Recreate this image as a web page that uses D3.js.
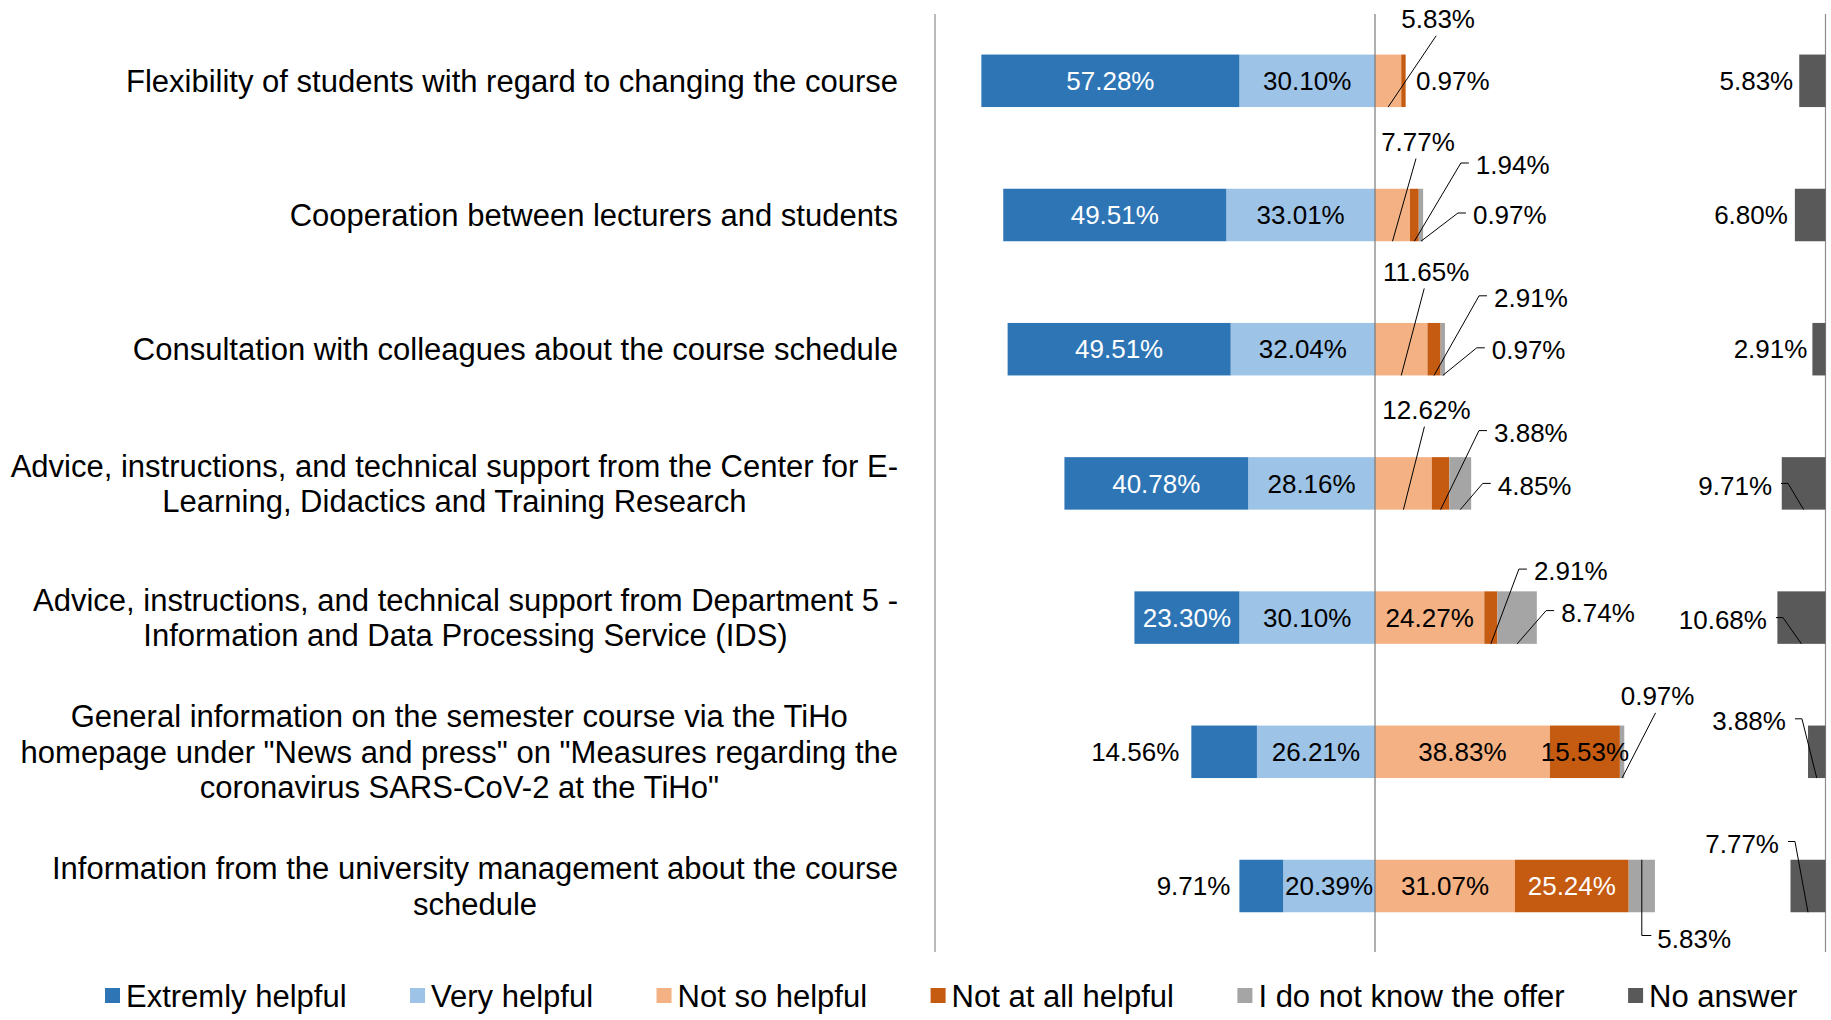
<!DOCTYPE html>
<html>
<head>
<meta charset="utf-8">
<script src="https://cdn.jsdelivr.net/npm/d3@7/dist/d3.min.js"></script>
<style>
  html, body { margin: 0; padding: 0; background: #fff; }
  svg { display: block; }
  text { font-family: "Liberation Sans", Arial, sans-serif; }
</style>
</head>
<body>
<svg id="chart" width="1831" height="1020"></svg>
<script>
// ---------------- DATA ----------------
const categories = [
  "Flexibility of students with regard to changing the course",
  "Cooperation between lecturers and students",
  "Consultation with colleagues about the course schedule",
  "Advice, instructions, and technical support from the Center for E-\nLearning, Didactics and Training Research",
  "Advice, instructions, and technical support from Department 5 -\nInformation and Data Processing Service (IDS)",
  "General information on the semester course via the TiHo\nhomepage under \"News and press\" on \"Measures regarding the\ncoronavirus SARS-CoV-2 at the TiHo\"",
  "Information from the university management about the course\nschedule"
];
const seriesNames = ["Extremly helpful", "Very helpful", "Not so helpful", "Not at all helpful", "I do not know the offer", "No answer"];
const extremelyHelpful = [57.28, 49.51, 49.51, 40.78, 23.30, 14.56, 9.71];
const veryHelpful      = [30.10, 33.01, 32.04, 28.16, 30.10, 26.21, 20.39];
const notSoHelpful     = [5.83, 7.77, 11.65, 12.62, 24.27, 38.83, 31.07];
const notAtAllHelpful  = [0.97, 1.94, 2.91, 3.88, 2.91, 15.53, 25.24];
const doNotKnow        = [0, 0.97, 0.97, 4.85, 8.74, 0.97, 5.83];
const noAnswer         = [5.83, 6.80, 2.91, 9.71, 10.68, 3.88, 7.77];

// ---------------- STYLE / LAYOUT ----------------
const colors = ["#2E75B6", "#9DC3E6", "#F4B183", "#C55A11", "#A5A5A5", "#595959"];
const insideTextColor = ["#ffffff", "#000000", "#000000", "#ffffff", "#000000", "#ffffff"];
// placement of data labels that are not centred inside their bar
// series index: 0 EH,1 VH,2 NSH,3 NAH,4 DK,5 NA ; dx from segment middle (px), dy from row centre (px)
const labelLayout = [
  {row:0, s:2, mode:"above", dx:50, dy:-62},
  {row:0, s:3, mode:"plainR", dx:12.5, dy:0},
  {row:0, s:5, mode:"leftOf", gap:6},
  {row:1, s:2, mode:"above", dx:25.5, dy:-73.5},
  {row:1, s:3, mode:"elbowR", dx:61.5, dy:-50},
  {row:1, s:4, mode:"elbowR", dx:52, dy:0},
  {row:1, s:5, mode:"leftOf", gap:7},
  {row:2, s:2, mode:"above", dx:25, dy:-77.8},
  {row:2, s:3, mode:"elbowR", dx:60, dy:-51.4},
  {row:2, s:4, mode:"elbowR", dx:49, dy:0.6},
  {row:2, s:5, mode:"leftOf", gap:5},
  {row:3, s:2, mode:"above", dx:23, dy:-73.8},
  {row:3, s:3, mode:"elbowR", dx:53.4, dy:-50.8},
  {row:3, s:4, mode:"elbowR", dx:37.5, dy:2},
  {row:3, s:5, mode:"elbowL", dx:-31.6, dy:2},
  {row:4, s:3, mode:"elbowR", dx:43, dy:-46.5},
  {row:4, s:4, mode:"elbowR", dx:44, dy:-5},
  {row:4, s:5, mode:"elbowL", dx:-34.5, dy:2},
  {row:5, s:0, mode:"leftOf", gap:12},
  {row:5, s:3, mode:"in", color:"#000000"},
  {row:5, s:4, mode:"above", dx:35.5, dy:-56},
  {row:5, s:5, mode:"elbowL", dx:-30.8, dy:-31},
  {row:6, s:0, mode:"leftOf", gap:9},
  {row:6, s:4, mode:"below", dx:15.5, dy:52.5},
  {row:6, s:5, mode:"elbowL", dx:-29, dy:-42.5}
];

const svg = d3.select("#chart");
const catFont = 31, labelFont = 26, legendFont = 31;
const barH = 52.5;
const topY = 14, bottomY = 952;
const leftAxisX = 935;
const labelRight = 898;

const x = d3.scaleLinear().domain([-100, 100]).range([924.5, 1825.5]);
const y = d3.scalePoint().domain(d3.range(categories.length)).range([80.8, 886]);

const seriesData = [extremelyHelpful, veryHelpful, notSoHelpful, notAtAllHelpful, doNotKnow, noAnswer];

// build segments
const segments = [];
categories.forEach((c, i) => {
  const vh = veryHelpful[i], eh = extremelyHelpful[i];
  segments.push({row:i, s:1, v:vh, x0:-vh, x1:0});
  segments.push({row:i, s:0, v:eh, x0:-vh-eh, x1:-vh});
  let acc = 0;
  [2,3,4].forEach(s => {
    const v = seriesData[s][i];
    segments.push({row:i, s:s, v:v, x0:acc, x1:acc+v});
    acc += v;
  });
  const na = noAnswer[i];
  segments.push({row:i, s:5, v:na, x0:100-na, x1:100});
});

// axis lines
const axisColor = "#8c8c8c";
svg.append("line").attr("x1", leftAxisX).attr("x2", leftAxisX).attr("y1", topY).attr("y2", bottomY)
  .attr("stroke", axisColor).attr("stroke-width", 1.2);
svg.append("line").attr("x1", x(100)).attr("x2", x(100)).attr("y1", topY).attr("y2", bottomY)
  .attr("stroke", axisColor).attr("stroke-width", 1.2);

// bars
svg.append("g").selectAll("rect").data(segments.filter(d => d.v > 0)).join("rect")
  .attr("x", d => x(d.x0))
  .attr("width", d => x(d.x1) - x(d.x0))
  .attr("y", d => y(d.row) - barH/2)
  .attr("height", barH)
  .attr("fill", d => colors[d.s]);

// centre axis line
svg.append("line").attr("x1", x(0)).attr("x2", x(0)).attr("y1", topY).attr("y2", bottomY)
  .attr("stroke", "#7a7a7a").attr("stroke-width", 1.2);

// category labels
const catG = svg.append("g");
categories.forEach((c, i) => {
  const lines = c.split("\n");
  const lh = 35.5;
  const t = catG.append("text")
    .attr("font-size", catFont).attr("fill", "#000").attr("text-anchor", "middle");
  lines.forEach((ln, k) => {
    t.append("tspan").attr("x", 0)
      .attr("y", y(i) + (k - (lines.length - 1)/2) * lh)
      .attr("dy", "0.35em").text(ln);
  });
  let maxW = 0;
  t.selectAll("tspan").each(function(){ maxW = Math.max(maxW, this.getComputedTextLength()); });
  t.selectAll("tspan").attr("x", labelRight - maxW/2);
});

// data labels
const fmt = v => v.toFixed(2) + "%";
const labG = svg.append("g").attr("font-size", labelFont);
const leadG = svg.append("g").attr("fill", "none").attr("stroke", "#000").attr("stroke-width", 1);
segments.forEach(d => {
  if (d.v <= 0) return;
  const lay = labelLayout.find(l => l.row === d.row && l.s === d.s) || {mode:"in"};
  const cy = y(d.row);
  const mid = (x(d.x0) + x(d.x1)) / 2;
  const barBottom = cy + barH/2, barTop = cy - barH/2;
  let lx, ly, anchor, color = "#000";
  if (lay.mode === "in") {
    lx = mid; ly = cy; anchor = "middle"; color = lay.color || insideTextColor[d.s];
  } else if (lay.mode === "leftOf") {
    lx = x(d.x0) - lay.gap; ly = cy; anchor = "end";
  } else if (lay.mode === "plainR") {
    lx = mid + lay.dx; ly = cy + lay.dy; anchor = "start";
  } else if (lay.mode === "above") {
    lx = mid + lay.dx; ly = cy + lay.dy; anchor = "middle";
    leadG.append("path").attr("d", d3.line()([[lx - 2, ly + 17], [mid, barBottom]]));
  } else if (lay.mode === "elbowR") {
    lx = mid + lay.dx; ly = cy + lay.dy; anchor = "start";
    leadG.append("path").attr("d", d3.line()([[lx - 7, ly - 2], [lx - 15, ly - 2], [mid, barBottom]]));
  } else if (lay.mode === "elbowL") {
    lx = mid + lay.dx; ly = cy + lay.dy; anchor = "end";
    leadG.append("path").attr("d", d3.line()([[lx + 9, ly - 2], [lx + 16, ly - 2], [mid, barBottom]]));
  } else if (lay.mode === "below") {
    lx = mid + lay.dx; ly = cy + lay.dy; anchor = "start";
    leadG.append("path").attr("d", d3.line()([[mid, barTop], [mid, ly - 3], [lx - 6, ly - 3]]));
  }
  labG.append("text").attr("x", lx).attr("y", ly).attr("dy", "0.35em")
    .attr("text-anchor", anchor).attr("fill", color).text(fmt(d.v));
});

// legend
const legG = svg.append("g").attr("font-size", legendFont);
let lxPos = 105;
const legY = 996;
seriesNames.forEach((n, i) => {
  legG.append("rect").attr("x", lxPos).attr("y", legY - 8).attr("width", 15).attr("height", 15).attr("fill", colors[i]);
  const t = legG.append("text").attr("x", lxPos + 21).attr("y", legY).attr("dy", "0.35em").attr("fill", "#000").text(n);
  lxPos += 21 + t.node().getComputedTextLength() + 63.5;
});
</script>
</body>
</html>
